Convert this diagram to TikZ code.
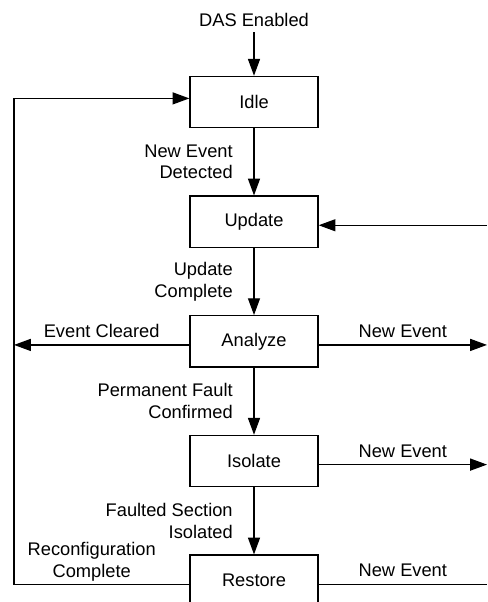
\documentclass[tikz,border=0pt]{standalone}
\usepackage{fontspec}
\setmainfont{Liberation Sans}
\usepackage{tikz}
\usetikzlibrary{positioning,arrows.meta}

\begin{document}
\begin{tikzpicture}[font=\fontsize{13}{15.5}\selectfont, line width=0.9pt,
		>={Triangle[length=0.42cm,width=0.3cm]},
		state/.style={draw, minimum width=3.2cm, minimum height=1.28cm, inner sep=0pt},
		cond/.style={left=0.4cm, align=right},
		note/.style={above=0.05cm, align=center}]
		\def\dy{0.09cm}
		\useasboundingbox (0,0) rectangle (12.175,-15.05);
		\coordinate (loop) at (0.35,0);
		\coordinate (rim) at (12.175,0);
		\node[state] (idle) at (6.35,-2.55) {Idle};
		\node[state, below=1.68cm of idle] (update) {Update};
		\node[state, below=1.68cm of update] (analyze) {Analyze};
		\node[state, below=1.68cm of analyze] (isolate) {Isolate};
		\node[state, below=1.68cm of isolate] (restore) {Restore};
		\node (das) at (6.35,-0.5) {DAS Enabled};
		\draw[->] (das) -- (idle);
		\draw[->] (idle) -- node[cond] {New Event\\Detected} (update);
		\draw[->] (update) -- node[cond] {Update\\Complete} (analyze);
		\draw[->] (analyze) -- node[cond] {Permanent Fault\\Confirmed} (isolate);
		\draw[->] (isolate) -- node[cond] {Faulted Section\\Isolated} (restore);
		\draw[->] ([yshift=-\dy]analyze.west) -- node[note] {Event Cleared} ([yshift=-\dy]analyze.west -| loop);
		\draw[->] ([yshift=-\dy]restore.west) -- node[note, above=-0.05cm, xshift=-0.25cm] {Reconfiguration\\Complete} ([yshift=-\dy]restore.west -| loop) |- ([yshift=\dy]idle.west);
		\draw[->] ([yshift=-\dy]update.east -| rim) -- ([yshift=-\dy]update.east);
		\draw[->] ([yshift=-\dy]analyze.east) -- node[note] {New Event} ([yshift=-\dy]analyze.east -| rim);
		\draw[->] ([yshift=-\dy]isolate.east) -- node[note] {New Event} ([yshift=-\dy]isolate.east -| rim);
		\draw ([yshift=-\dy]restore.east) -- node[note] {New Event} ([yshift=-\dy]restore.east -| rim);
	\end{tikzpicture}
\end{document}
